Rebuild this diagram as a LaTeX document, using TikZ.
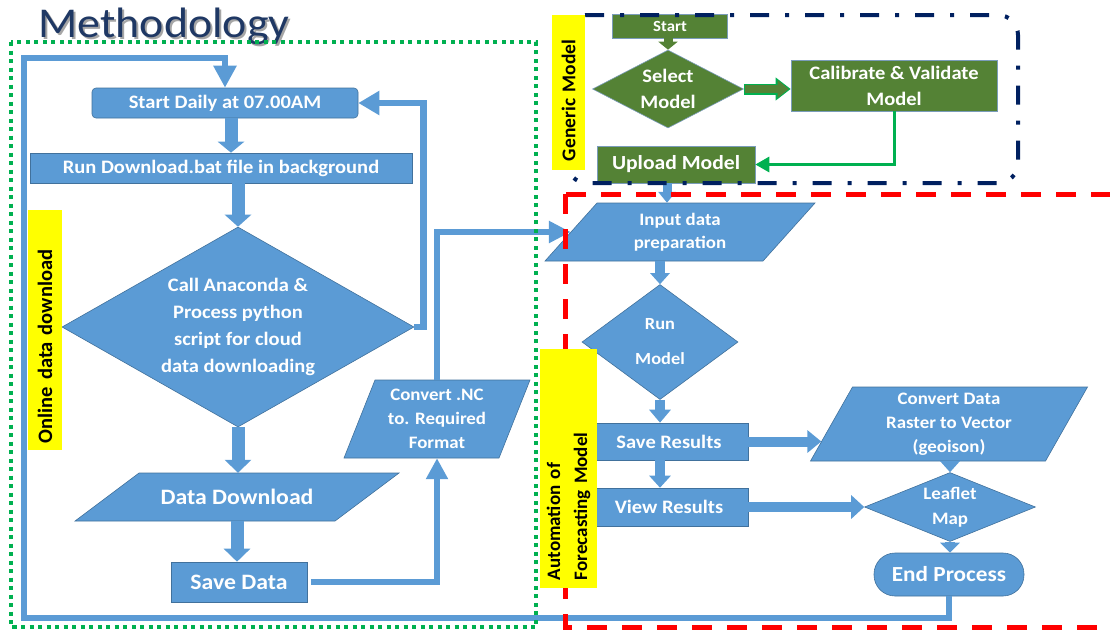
\documentclass[tikz,border=0pt]{standalone}
\usepackage{fontspec}
\setmainfont{Carlito}[FakeStretch=1.08]
\newfontfamily\labelfont{Carlito}
\usetikzlibrary{shapes.geometric,arrows.meta}
\definecolor{bluef}{HTML}{5B9BD5}
\definecolor{blueo}{HTML}{41719C}
\definecolor{greenf}{HTML}{548235}
\definecolor{greenl}{HTML}{00B050}
\definecolor{navy}{HTML}{002060}
\definecolor{titlec}{HTML}{1F3864}
\definecolor{redd}{HTML}{FF0000}
\definecolor{yel}{HTML}{FFFF00}
\newcommand{\paragram}[5]{%
  \filldraw[fill=bluef, draw=blueo, line width=0.6pt]
    ({#1-#3/2+#5/2},{#2-#4/2}) -- ({#1+#3/2+#5/2},{#2-#4/2}) --
    ({#1+#3/2-#5/2},{#2+#4/2}) -- ({#1-#3/2-#5/2},{#2+#4/2}) -- cycle;}
\begin{document}
\begin{tikzpicture}[x=1pt,y=-1pt,
  bbox/.style={draw=blueo, line width=0.6pt, fill=bluef, text=white, align=center, inner sep=0pt, font=\bfseries\fontsize{19}{22}\selectfont},
  gbox/.style={draw=blueo!70, line width=0.6pt, fill=greenf, text=white, align=center, inner sep=0pt, font=\bfseries\fontsize{19}{26}\selectfont},
  ptext/.style={text=white, align=center, inner sep=0pt, font=\bfseries\fontsize{17.5}{24}\selectfont},
  bline/.style={draw=bluef, line width=6.5pt, line join=miter},
  barrow/.style={draw=bluef, line width=13pt, -{Triangle[width=26pt,length=12pt]}},
  barrowsm/.style={draw=bluef, line width=9pt, -{Triangle[width=19pt,length=11pt]}},
  barrowh/.style={draw=bluef, line width=10pt, -{Triangle[width=22pt,length=14pt]}},
  ylabel/.style={fill=yel, rotate=90, align=left, inner sep=0pt, text=black, font=\labelfont\bfseries\fontsize{19.5}{27}\selectfont}
]
\useasboundingbox (0,0) rectangle (1110,630);
\clip (0,0) rectangle (1110,630);

% title
\node[anchor=base west, text=black!35, font=\fontsize{42.5}{44}\selectfont] (titleshadow) at (37,39) {Methodology};
\node[anchor=base west, text=titlec, font=\fontsize{42.5}{44}\selectfont] (title) at (35,37) {Methodology};

% ---- left flow ----
\node[bbox, rounded corners=4pt, minimum width=266pt, minimum height=30pt] (sd) at (225,103) {Start Daily at 07.00AM};
\node[bbox, minimum width=382pt, minimum height=30pt] (rd) at (221,168) {Run Download.bat file in background};
\node[bbox, diamond, aspect=1.76, minimum width=352pt, minimum height=200pt, font=\bfseries\fontsize{19}{27}\selectfont] (ca) at (238,327) {Call Anaconda \&\\Process python\\script for cloud\\data downloading};
\paragram{237}{497}{260}{48}{64}
\node[ptext, minimum width=260pt, minimum height=48pt, font=\bfseries\fontsize{22}{24}\selectfont] (dd) at (237,497) {Data Download};
\node[bbox, minimum width=136pt, minimum height=40pt, font=\bfseries\fontsize{22}{24}\selectfont] (sv) at (239,582) {Save Data};
\paragram{437}{419}{155}{78}{31}
\node[ptext, minimum width=155pt, minimum height=78pt] (cnc) at (437,419) {Convert .NC\\to. Required\\Format};

% ---- right flow ----
\node[gbox, minimum width=115pt, minimum height=24pt, font=\bfseries\fontsize{15.5}{18}\selectfont] (st) at (670,26) {Start};
\node[gbox, diamond, aspect=1.94, minimum width=151pt, minimum height=78pt] (sm) at (668,89) {Select\\Model};
\node[gbox, minimum width=206pt, minimum height=51pt] (cal) at (894,85.5) {Calibrate \& Validate\\Model};
\node[gbox, minimum width=158pt, minimum height=37pt, font=\bfseries\fontsize{20}{22}\selectfont] (upl) at (676,164.5) {Upload Model};
\paragram{680}{232}{218}{58}{52}
\node[ptext, minimum width=218pt, minimum height=58pt, font=\bfseries\fontsize{17.5}{23}\selectfont] (inp) at (680,232) {Input data\\preparation};
\node[bbox, diamond, aspect=1.36, minimum width=156pt, minimum height=115pt, font=\bfseries\fontsize{17}{35}\selectfont] (rm) at (660,342) {Run\\Model};
\node[bbox, minimum width=158pt, minimum height=37pt] (sr) at (669,441.5) {Save Results};
\node[bbox, minimum width=158pt, minimum height=38pt] (vr) at (669,507) {View Results};
\paragram{949}{424}{235}{74}{42}
\node[ptext, minimum width=235pt, minimum height=74pt] (cd) at (949,424) {Convert Data\\Raster to Vector\\(geoison)};
\node[bbox, diamond, aspect=2.48, minimum width=171pt, minimum height=69pt, font=\bfseries\fontsize{17.5}{25}\selectfont] (lf) at (950,507) {Leaflet\\Map};
\node[bbox, rounded corners=21pt, minimum width=150pt, minimum height=43pt, font=\bfseries\fontsize{21.5}{24}\selectfont] (ep) at (949,574.5) {End Process};

% ---- connectors ----
\coordinate (loopbl) at (24,618);
\coordinate (looptl) at (24,58);
\draw[bline, -{Triangle[width=22pt,length=22pt]}] (ep.south) |- (loopbl) -- (looptl) -| (sd.north);
\draw[barrow, -{Triangle[width=26pt,length=11pt]}] ([xshift=6pt]sd.south) -- ([xshift=10pt]rd.north);
\draw[barrow] (rd.south -| ca.north) -- (ca.north);
\draw[barrow, -{Triangle[width=26pt,length=13pt]}] (ca.south) -- (ca.south |- dd.north);
\draw[barrow, -{Triangle[width=26pt,length=13pt]}] (dd.south) -- (dd.south |- sv.north);
\draw[bline, -{Triangle[width=21pt,length=21pt]}] ([xshift=4pt]sv.east) -| (cnc.south);
\draw[bline, -{Triangle[width=21pt,length=22pt]}] (cnc.north) |- (inp.west);
\draw[bline, -{Triangle[width=23pt,length=21pt]}] (ca.east) -- ++(9,0) |- (sd.east);

\draw[draw=greenf, line width=9pt, -{Triangle[width=19pt,length=8pt]}] (st.south -| sm.north) -- (sm.north);
\draw[draw=greenl, line width=11pt, -{Triangle[width=22pt,length=15pt]}] (sm.east) -- (cal.west |- sm.east);
\draw[draw=greenf, line width=8pt, -{Triangle[width=17pt,length=11pt]}, shorten >=2pt, shorten <=1pt] (sm.east) -- (cal.west |- sm.east);
\draw[draw=greenl, line width=3pt, -{Triangle[width=15pt,length=14pt]}] (cal.south) |- (upl.east);
\draw[barrowsm, -{Triangle[width=17pt,length=11pt]}] ([xshift=-9pt]upl.south) -- ([xshift=-13pt]inp.north);
\draw[barrowsm, line width=10pt] (inp.south -| rm.north) -- (rm.north);
\draw[barrowsm, line width=10pt, -{Triangle[width=21pt,length=13pt]}] (rm.south) -- (rm.south |- sr.north);
\draw[barrowsm, line width=10pt, -{Triangle[width=21pt,length=12pt]}] (rm.south |- sr.south) -- (rm.south |- vr.north);
\draw[barrowh, shorten >=10pt] (sr.east) -- (sr.east -| cd.west);
\draw[barrowh, -{Triangle[width=23pt,length=13pt]}] (vr.east) -- (lf.west);
\draw[barrowsm, line width=10pt] (cd.south -| lf.north) -- (lf.north);
\draw[barrowsm, line width=10pt, -{Triangle[width=19pt,length=10pt]}] (lf.south) -- (lf.south |- ep.north);

% ---- group frames ----
\draw[greenl, line width=4pt, dash pattern=on 4pt off 4.5pt] (11,42) rectangle (536,627);
\draw[redd, line width=5pt, dash pattern=on 20pt off 15pt] (565,194) rectangle (1140,627);
\draw[navy, line width=4pt, rounded corners=20pt, dash pattern=on 19pt off 16pt on 4pt off 16pt] (567,15) rectangle (1018,183);

% ---- labels ----
\node[ylabel, minimum width=240pt, minimum height=34pt, text width=226pt, font=\labelfont\bfseries\fontsize{20.5}{27}\selectfont] (lon) at (45,330) {Online data download};
\node[ylabel, minimum width=155pt, minimum height=33pt, text width=137pt] (lgm) at (568.5,92.5) {Generic Model};
\node[ylabel, minimum width=239pt, minimum height=57pt, text width=223pt, font=\labelfont\bfseries\fontsize{19}{27}\selectfont] (lauto) at (568.5,468.5) {Automation of\\Forecasting Model};
\end{tikzpicture}
\end{document}
